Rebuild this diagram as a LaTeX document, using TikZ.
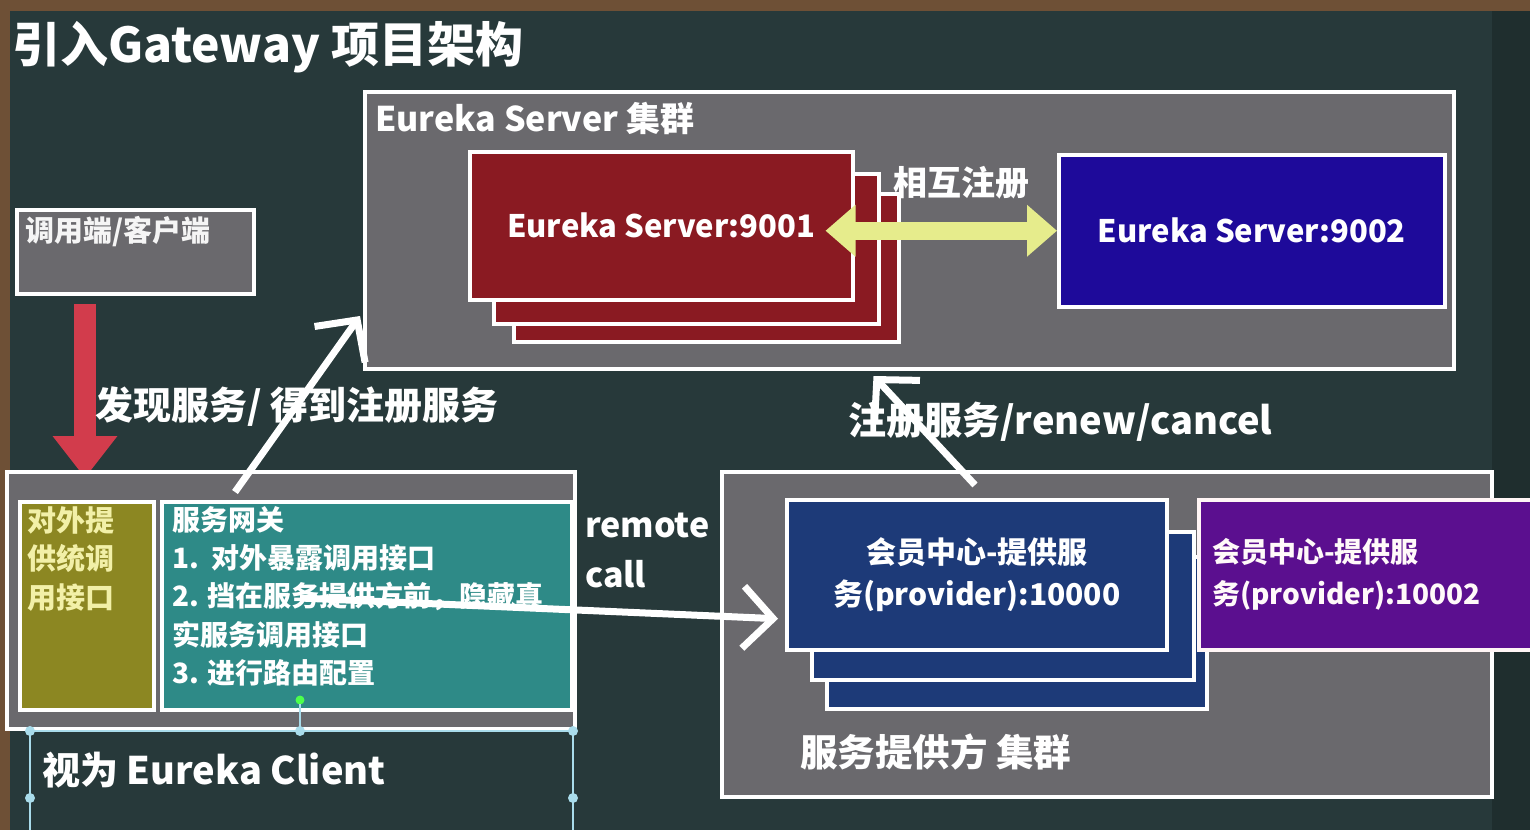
\documentclass[tikz,border=0pt]{standalone}
\usepackage{fontspec}
\setmainfont{Noto Sans CJK SC}
\usetikzlibrary{arrows.meta}
\definecolor{bgc}{HTML}{27393A}
\definecolor{framebrown}{HTML}{6E5036}
\definecolor{edgedark}{HTML}{1F2E2E}
\definecolor{panelgray}{HTML}{6A696D}
\definecolor{esred}{HTML}{8A1A22}
\definecolor{esblue}{HTML}{1E0A9A}
\definecolor{pvnavy}{HTML}{1D3A78}
\definecolor{pvpurple}{HTML}{5B0F8F}
\definecolor{olivec}{HTML}{8C8722}
\definecolor{tealc}{HTML}{2E8A87}
\definecolor{yarrow}{HTML}{E6EC8C}
\definecolor{rarrow}{HTML}{D23C4C}
\definecolor{oltext}{HTML}{F2F0A8}
\definecolor{selc}{HTML}{A9DCEB}
\newcommand\fsz[2]{\fontsize{#1}{#2}\selectfont}
\tikzset{
  panel/.style={draw=white, line width=4pt, fill=panelgray, anchor=north west, inner sep=0pt},
  card/.style={draw=white, line width=3.5pt, anchor=north west, inner sep=0pt, text=white, font=\bfseries},
  txt/.style={text=white, font=\bfseries, inner sep=0pt, anchor=west},
  whitearrow/.style={draw=white, line width=7pt, -{Straight Barb[length=30pt,width=62pt]}},
  selline/.style={draw=selc, line width=1.2pt},
  seldot/.style={fill=selc, draw=none},
}
\begin{document}
\begin{tikzpicture}[x=1pt,y=-1pt]
\fill[bgc] (0,0) rectangle (1530,830);
\useasboundingbox (0,0) rectangle (1530,830);
\fill[edgedark] (1492,0) rectangle (1530,830);
\fill[framebrown] (0,0) rectangle (1530,11);
\fill[framebrown] (0,0) rectangle (10,830);

% title
\node[txt, font=\bfseries\fsz{48}{52}] (title) at (12,47) {引入Gateway 项目架构};

% Eureka server cluster
\node[panel, minimum width=1089pt, minimum height=277pt] (esc) at (363,90) {};
\node[txt, font=\bfseries\fsz{34}{36}] (esclabel) at (375,118) {Eureka Server 集群};
\node[card, fill=esred, minimum width=385pt, minimum height=148pt] (es3) at (512,192) {};
\node[card, fill=esred, minimum width=385pt, minimum height=150pt] (es2b) at (492,172) {};
\node[card, fill=esred, minimum width=383pt, minimum height=148pt, font=\bfseries\fsz{31}{34}] (es1) at (468,150) {Eureka Server:9001};
\node[card, fill=esblue, minimum width=386pt, minimum height=152pt, font=\bfseries\fsz{31}{34}] (es2) at (1057,153) {Eureka Server:9002};
\draw[yarrow, line width=18pt, {Triangle[length=30pt,width=50pt]}-{Triangle[length=30pt,width=50pt]}]
  ([xshift=-29pt]es1.east |- es2.west) -- (es2.west);
\node[txt, font=\bfseries\fsz{34}{36}] (mutual) at (893,183) {相互注册};

% client
\node[panel, minimum width=237pt, minimum height=84pt] (client) at (15,208) {};
\node[txt, font=\bfseries\fsz{29}{30}, text=white!92!gray] (clientlabel) at (25,232) {调用端/客户端};
\draw[rarrow, line width=22pt, -{Triangle[length=42pt,width=62pt]}]
  ([xshift=70pt,yshift=-8pt]client.south west) -- ([xshift=70pt]client.south west |- 0,478);

% gateway
\node[panel, minimum width=568pt, minimum height=257pt] (gw) at (5,470) {};
\node[card, fill=olivec, minimum width=134pt, minimum height=208pt] (gwo) at (18,500) {};
\node[card, fill=tealc, minimum width=410pt, minimum height=208pt] (gwt) at (160,500) {};
\node[inner sep=0pt, anchor=north west, align=left, text=oltext, font=\bfseries\fsz{29}{38.5}] (gwotext) at (27,506) {对外提\\供统调\\用接口};
\node[inner sep=0pt, anchor=north west, align=left, text=white, font=\bfseries\fsz{28}{38.3}] (gwttext) at (172,506)
  {服务网关\\1.\ \ 对外暴露调用接口\\2. 挡在服务提供方前，隐藏真\\实服务调用接口\\3. 进行路由配置};
\fill[green!70!white] (300,700) circle (4.5pt);

% selection handles of the text box
\draw[selline] (300,704) -- (300,731);
\draw[selline] (30,731) -- (573,731);
\draw[selline] (30,731) -- (30,830);
\draw[selline] (573,731) -- (573,830);
\foreach \p in {(30,731),(300,731),(573,731),(30,798),(573,798)} \fill[seldot] \p circle (5pt);
\node[txt, font=\bfseries\fsz{38}{40}] (client2) at (42,770) {视为 Eureka Client};

% provider cluster
\node[panel, minimum width=770pt, minimum height=325pt] (pc) at (720,470) {};
\node[card, fill=pvnavy, minimum width=380pt, minimum height=152pt] (pv3) at (825,555) {};
\node[card, fill=pvnavy, minimum width=382pt, minimum height=148pt] (pv2) at (810,530) {};
\node[card, fill=pvnavy, minimum width=380pt, minimum height=150pt, align=center, font=\bfseries\fsz{30}{42}] (pv1) at (785,498) {会员中心-提供服\\务(provider):10000};
\node[card, draw=white!85!pink, fill=pvpurple, minimum width=340pt, minimum height=150pt] (pp) at (1197,498) {};
\node[inner sep=0pt, anchor=west, align=left, text=white!90!pink, font=\bfseries\fsz{28}{42}] (pptext) at (1212,574) {会员中心-提供服\\务(provider):10002};
\node[txt, font=\bfseries\fsz{37.5}{40}] (pclabel) at (800,752) {服务提供方 集群};

% arrows
\draw[whitearrow] ([xshift=230pt,yshift=-22pt]gw.north west) -- ([xshift=-3pt,yshift=55pt]esc.south west);
\draw[whitearrow] ([xshift=255pt,yshift=-15pt]pc.north west) -- ([xshift=-36pt,yshift=-5pt]esc.south);
\draw[whitearrow] ([xshift=140pt,yshift=-98pt]gwt.north west) -- ([xshift=-7pt,yshift=-44pt]pv1.west);

% arrow labels
\node[txt, font=\bfseries\fsz{38}{42}] (disc) at (95,407) {发现服务/ 得到注册服务};
\node[txt, font=\bfseries\fsz{38}{40}] (reg) at (848,422) {注册服务/renew/cancel};
\node[inner sep=0pt, anchor=west, align=left, text=white, font=\bfseries\fsz{34}{50}] (remote) at (585,550) {remote\\call};
\end{tikzpicture}
\end{document}
